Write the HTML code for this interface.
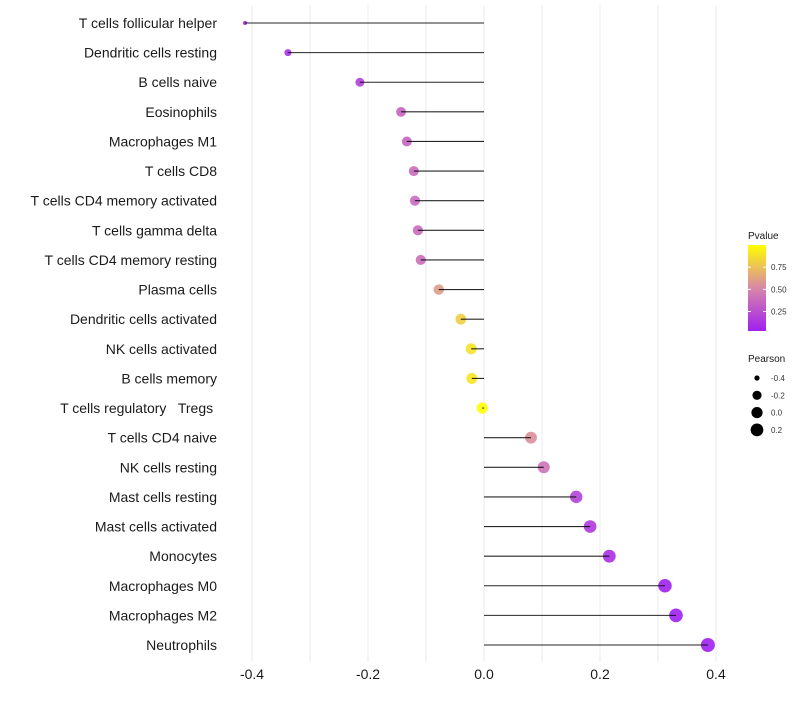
<!DOCTYPE html>
<html><head><meta charset="utf-8"><style>
body{margin:0;background:#fff;font-family:"Liberation Sans",sans-serif}
text{white-space:pre}
</style></head><body>
<svg id="chart" width="800" height="700" xmlns="http://www.w3.org/2000/svg" font-family="Liberation Sans, sans-serif">
<g id="grid"></g>
<g id="marks"></g>
<g id="ylabels"></g>
<g id="xlabels"></g>
<g id="legend"></g>
</svg>
<script>
const categories=["T cells follicular helper","Dendritic cells resting","B cells naive","Eosinophils","Macrophages M1","T cells CD8","T cells CD4 memory activated","T cells gamma delta","T cells CD4 memory resting","Plasma cells","Dendritic cells activated","NK cells activated","B cells memory","T cells regulatory   Tregs ","T cells CD4 naive","NK cells resting","Mast cells resting","Mast cells activated","Monocytes","Macrophages M0","Macrophages M2","Neutrophils"];
const pearson=[-0.412,-0.338,-0.214,-0.143,-0.133,-0.121,-0.119,-0.114,-0.109,-0.078,-0.040,-0.022,-0.021,-0.003,0.081,0.103,0.159,0.183,0.216,0.312,0.331,0.386];
const pvalues=[0.03,0.1,0.18,0.35,0.35,0.38,0.38,0.38,0.4,0.6,0.8,0.88,0.9,1.0,0.55,0.42,0.2,0.15,0.1,0.03,0.03,0.03];
const xTicks=[-0.4,-0.2,0.0,0.2,0.4];
const xTickLabels=["-0.4","-0.2","0.0","0.2","0.4"];
const gridVals=[-0.4,-0.3,-0.2,-0.1,0,0.1,0.2,0.3,0.4];
const legendP=[0.75,0.5,0.25];
const legendS=[-0.4,-0.2,0.0,0.2];

const NS="http://www.w3.org/2000/svg";
const X=v=>484+v*580;
const Y=i=>23+i*(622/21);
const pMin=0.03,pMax=1.0;
const sMin=Math.min(...pearson),sMax=Math.max(...pearson);
function R(v){const t=Math.max(0,(v-sMin)/(sMax-sMin));return 2+5*Math.sqrt(t);}
function lerp(a,b,t){return a.map((x,i)=>Math.round(x+(b[i]-x)*t));}
function col(p){const t=Math.max(0,Math.min(1,(p-pMin)/(pMax-pMin)));
 const c0=[160,32,240],c1=[215,135,168],c2=[255,255,0];
 const c=t<0.5?lerp(c0,c1,t*2):lerp(c1,c2,(t-0.5)*2);return `rgb(${c})`;}
function mk(tag,attrs,parent){const e=document.createElementNS(NS,tag);for(const k in attrs)e.setAttribute(k,attrs[k]);parent.appendChild(e);return e;}
const grid=document.getElementById('grid'),marks=document.getElementById('marks'),yl=document.getElementById('ylabels'),xl=document.getElementById('xlabels'),lg=document.getElementById('legend');
gridVals.forEach(v=>{const l=mk('line',{x1:X(v),x2:X(v),y1:5,y2:662,stroke:'#ebebeb','stroke-width':1},grid);

});
categories.forEach((c,i)=>{
 const y=Y(i),v=pearson[i];
 const ci=mk('circle',{cx:X(v),cy:y,r:R(v).toFixed(2),fill:col(pvalues[i]),'fill-opacity':0.9},marks);
 
 
 const ln=mk('line',{x1:X(0),x2:X(v),y1:y,y2:y,stroke:'#000','stroke-width':1.1,'stroke-opacity':0.85},marks);
 
 
 const t=mk('text',{x:217,y:y+5,'text-anchor':'end','font-size':14,fill:'#1a1a1a'},yl);t.textContent=c;
 
 
});
xTicks.forEach((v,i)=>{const t=mk('text',{x:X(v),y:679,'text-anchor':'middle','font-size':14,fill:'#1a1a1a'},xl);t.textContent=xTickLabels[i];

});
const tt=mk('text',{x:748,y:239,'font-size':10,fill:'#1a1a1a'},lg);tt.textContent='Pvalue';


const defs=mk('defs',{},lg);const gr=mk('linearGradient',{id:'pg',x1:0,y1:1,x2:0,y2:0},defs);
[0,0.25,0.5,0.75,1].forEach(o=>mk('stop',{offset:o,'stop-color':col(pMin+o*(pMax-pMin))},gr));
const bar=mk('rect',{x:748,y:245,width:18,height:86,fill:'url(#pg)'},lg);


const PY=p=>331-(p-pMin)/(pMax-pMin)*86;
legendP.forEach(p=>{mk('line',{x1:748,x2:751,y1:PY(p),y2:PY(p),stroke:'#fff'},lg);mk('line',{x1:763,x2:766,y1:PY(p),y2:PY(p),stroke:'#fff'},lg);
const t=mk('text',{x:771,y:PY(p)+3,'font-size':8,fill:'#333'},lg);t.textContent=p.toFixed(2);

});
const st=mk('text',{x:748,y:362,'font-size':10,fill:'#1a1a1a'},lg);st.textContent='Pearson';


legendS.forEach((s,i)=>{const y=378+i*17.3;
const c=mk('circle',{cx:757,cy:y,r:R(s).toFixed(2),fill:'#000'},lg);


const t=mk('text',{x:771,y:y+3,'font-size':8,fill:'#333'},lg);t.textContent=s.toFixed(1);

});
</script>
</body></html>
